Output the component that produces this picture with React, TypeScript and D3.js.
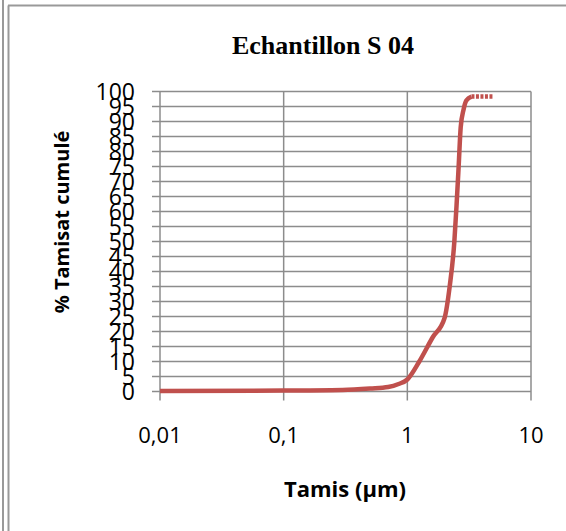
import * as d3 from "d3";
import React from "react";

// sieve sizes (µm) and cumulative % passing
const sizes = [0.01, 0.1, 0.3, 0.5, 0.7, 0.85, 1, 1.25, 1.6, 2, 2.2, 2.4, 2.5, 2.6, 2.7, 2.85, 3.0, 3.3];
const passing = [0.2, 0.3, 0.5, 1.0, 1.5, 2.5, 4, 10, 18, 24.5, 35, 50, 62, 75, 88, 94, 97, 98.3];
// flat tail drawn dashed
const tailSizes = [3.3, 4, 5];
const tailPassing = [98.3, 98.3, 98.3];

const xTicks = [0.01, 0.1, 1, 10];
const xTickLabels = ["0,01", "0,1", "1", "10"];
const yTicks = d3.range(0, 101, 5);

const W = 566;
const H = 531;
const left = 160;
const right = 531;
const top = 91.5;
const bottom = 391.5;

const gridColor = "#8c8c8c";
const lineColor = "#C0504D";
const font = "'Open Sans', sans-serif";

export default function App() {
  const x = d3.scaleLog().domain([0.01, 10]).range([left, right]);
  const y = d3.scaleLinear().domain([0, 100]).range([bottom, top]);

  const line = d3
    .line<number>()
    .x((d, i) => x(sizes[i]))
    .y((d) => y(d))
    .curve(d3.curveMonotoneX);

  const tail = d3
    .line<number>()
    .x((d, i) => x(tailSizes[i]))
    .y((d) => y(d));

  return (
    <svg
      width={W}
      height={H}
      style={{ position: "absolute", left: 0, top: 0, background: "#fff" }}
    >
      {/* frame */}
      <line x1={3} y1={0} x2={3} y2={H} stroke="#999" strokeWidth={2} />
      <line x1={8.5} y1={5.5} x2={8.5} y2={H} stroke="#999" strokeWidth={2} />
      <line x1={8} y1={5.5} x2={W} y2={5.5} stroke="#999" strokeWidth={2} />

      <text
        x={323}
        y={54}
        textAnchor="middle"
        fontFamily="'Liberation Serif', 'Times New Roman', serif"
        fontWeight="bold"
        fontSize={26}
      >
        Echantillon S 04
      </text>

      {/* horizontal grid + y ticks */}
      {yTicks.map((t) => (
        <g key={"y" + t}>
          <line x1={left - 8} x2={right} y1={y(t)} y2={y(t)} stroke={gridColor} strokeWidth={1.5} />
          <text
            x={135}
            y={y(t) + 8}
            textAnchor="end"
            fontFamily={font}
            fontSize={23}
          >
            {t}
          </text>
        </g>
      ))}

      {/* vertical grid + x ticks */}
      {xTicks.map((t, i) => (
        <g key={"x" + t}>
          <line x1={x(t)} x2={x(t)} y1={top} y2={bottom + 9} stroke={gridColor} strokeWidth={1.5} />
          <text
            x={x(t)}
            y={443}
            textAnchor="middle"
            fontFamily={font}
            fontSize={22}
          >
            {xTickLabels[i]}
          </text>
        </g>
      ))}

      <path d={line(passing) ?? ""} fill="none" stroke={lineColor} strokeWidth={4.5} strokeLinejoin="round" />
      <path
        d={tail(tailPassing) ?? ""}
        fill="none"
        stroke={lineColor}
        strokeWidth={4.5}
        strokeDasharray="3,1.5"
      />

      <text
        x={345}
        y={497}
        textAnchor="middle"
        fontFamily={font}
        fontWeight="bold"
        fontSize={22}
      >
        Tamis (µm)
      </text>
      <text
        transform="translate(69,222) rotate(-90)"
        textAnchor="middle"
        fontFamily={font}
        fontWeight="bold"
        fontSize={20}
      >
        % Tamisat cumulé
      </text>
    </svg>
  );
}
